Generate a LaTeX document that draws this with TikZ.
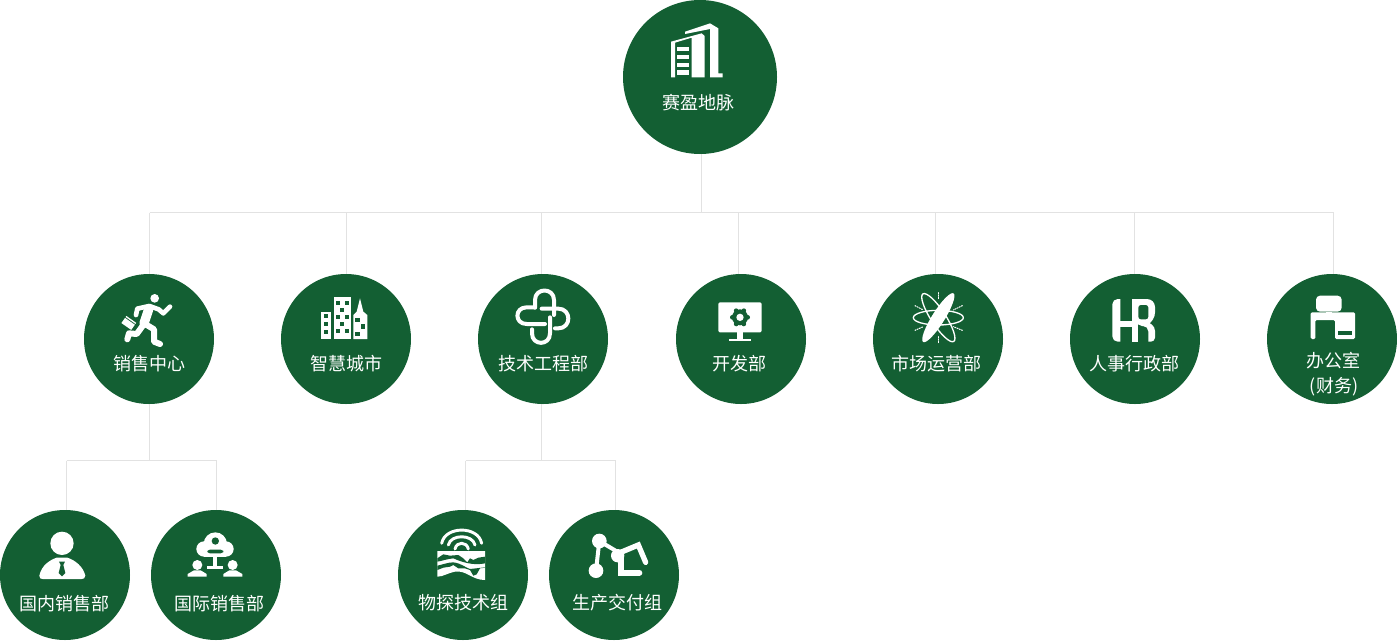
\documentclass[tikz,border=0pt]{standalone}
\usepackage{fontspec}
\setmainfont{Noto Sans CJK SC}
\definecolor{orggreen}{HTML}{135F33}
\definecolor{linkgray}{HTML}{E2E2E2}
\tikzset{
    orgnode/.style={circle,fill=orggreen,draw=none,minimum size=97.5pt,inner sep=0pt},
    orglabel/.style={text=white,font=\fontsize{13.5pt}{16pt}\selectfont,inner sep=0pt},
    linkline/.style={draw=linkgray,line width=0.75pt},
    iconfill/.style={fill=white,draw=none},
    iconhole/.style={fill=orggreen,draw=none},
    iconline/.style={draw=white,line width=#1,line cap=round,line join=round},
}
\begin{document}
\begin{tikzpicture}[x=0.75pt,y=-0.75pt]
    \useasboundingbox (0,0) rectangle (1397,640);
    % circles
    \node[orgnode,minimum size=115.5pt] (root) at (700,77) {};
    \node[orgnode] (sales) at (149,339) {};
    \node[orgnode] (city) at (346,339) {};
    \node[orgnode] (tech) at (543,339) {};
    \node[orgnode] (dev) at (741,339) {};
    \node[orgnode] (market) at (938,339) {};
    \node[orgnode] (hr) at (1135,339) {};
    \node[orgnode] (office) at (1332,339) {};
    \node[orgnode] (domestic) at (65,575) {};
    \node[orgnode] (intl) at (216,575) {};
    \node[orgnode] (geo) at (463,575) {};
    \node[orgnode] (delivery) at (614,575) {};
    % connectors
    \coordinate (bus0) at (701.5,212.5);
    \coordinate (bus1) at (149.5,212.5);
    \coordinate (bus2) at (346.5,212.5);
    \coordinate (bus3) at (541.5,212.5);
    \coordinate (bus4) at (738.5,212.5);
    \coordinate (bus5) at (935.5,212.5);
    \coordinate (bus6) at (1134.5,212.5);
    \coordinate (bus7) at (1333.5,212.5);
    \coordinate (salesbus) at (149.5,460.5);
    \coordinate (salesbus1) at (66.5,460.5);
    \coordinate (salesbus2) at (216.5,460.5);
    \coordinate (techbus) at (541.5,460.5);
    \coordinate (techbus1) at (465.5,460.5);
    \coordinate (techbus2) at (615.5,460.5);
    \draw[linkline] (bus0 |- root.south) -- (bus0);
    \draw[linkline] (bus1) -- (bus7);
    \draw[linkline] (bus1) -- (bus1 |- sales.north);
    \draw[linkline] (bus2) -- (bus2 |- city.north);
    \draw[linkline] (bus3) -- (bus3 |- tech.north);
    \draw[linkline] (bus4) -- (bus4 |- dev.north);
    \draw[linkline] (bus5) -- (bus5 |- market.north);
    \draw[linkline] (bus6) -- (bus6 |- hr.north);
    \draw[linkline] (bus7) -- (bus7 |- office.north);
    \draw[linkline] (salesbus |- sales.south) -- (salesbus);
    \draw[linkline] (salesbus1) -- (salesbus2);
    \draw[linkline] (salesbus1) -- (salesbus1 |- domestic.north);
    \draw[linkline] (salesbus2) -- (salesbus2 |- intl.north);
    \draw[linkline] (techbus |- tech.south) -- (techbus);
    \draw[linkline] (techbus1) -- (techbus2);
    \draw[linkline] (techbus1) -- (techbus1 |- geo.north);
    \draw[linkline] (techbus2) -- (techbus2 |- delivery.north);
    % labels
    \node[orglabel] (rootlabel) at (698.5,102.5) {赛盈地脉};
    \node[orglabel] (saleslabel) at (149,363.5) {销售中心};
    \node[orglabel] (citylabel) at (346,363.5) {智慧城市};
    \node[orglabel] (techlabel) at (543.5,363.5) {技术工程部};
    \node[orglabel] (devlabel) at (739,363.5) {开发部};
    \node[orglabel] (marketlabel) at (936.5,363.5) {市场运营部};
    \node[orglabel] (hrlabel) at (1134,363.5) {人事行政部};
    \node[orglabel] (officelabel) at (1333,360.5) {办公室};
    \node[orglabel] (officelabelb) at (1334,386.5) {(财务)};
    \node[orglabel] (domesticlabel) at (64.5,603.5) {国内销售部};
    \node[orglabel] (intllabel) at (219,603.5) {国际销售部};
    \node[orglabel] (geolabel) at (463.5,602.5) {物探技术组};
    \node[orglabel] (deliverylabel) at (617,602.5) {生产交付组};
    % icon: building
    \begin{scope}[shift={(620,0)},scale=1/3]
        \fill[iconfill] (195,95) -- (270,70) -- (295,85) -- (295,220) -- (308,220) -- (308,232) -- (270,232) -- (270,87) -- (195,102) -- cycle;
        \fill[iconfill] (153,125) -- (245,100) -- (254,108) -- (254,232) -- (215,232) -- (215,113) -- (165,128) -- (165,232) -- (153,232) -- cycle;
        \fill[iconfill] (172,140) rectangle (208,153);
        \fill[iconfill] (172,165) rectangle (208,178);
        \fill[iconfill] (172,188) rectangle (208,200);
        \fill[iconfill] (172,211) rectangle (208,225);
    \end{scope}
    % icon: runner
    \begin{scope}[shift={(80,270)},scale=1/3]
        \fill[iconfill] (224,85) circle (13);
        \draw[iconline=3.5pt] (168,135) -- (172,116) -- (208,108) -- (236,118) -- (250,130) -- (270,110);
        \draw[iconline=7pt] (206,118) -- (192,160);
        \draw[iconline=4.5pt] (190,165) -- (170,192) -- (147,190) -- (142,208);
        \draw[iconline=4.5pt] (192,160) -- (222,178) -- (222,215) -- (240,222);
        \fill[iconfill,rotate around={-35:(147,158)}] (129,146) rectangle (165,150);
        \fill[iconfill,rotate around={-35:(147,158)}] (129,153) rectangle (165,172);
    \end{scope}
    % icon: city
    \begin{scope}[shift={(80,270)},scale=1/3]
        \fill[iconfill] (723,125) rectangle (753,207);
        \fill[iconfill] (761,82) rectangle (812,207);
        \fill[iconfill] (820,207) -- (820,135) -- (830,125) -- (835,105) -- (840,85) -- (845,105) -- (850,125) -- (862,135) -- (862,207) -- cycle;
        \foreach \wy in {132,155,180} \fill[iconhole] (732,\wy) rectangle (744,\wy+12);
        \foreach \wx/\wy in {768/92,795/92,780/113,768/135,795/135,780/155,768/177,795/177} \fill[iconhole] (\wx,\wy) rectangle (\wx+13,\wy+13);
        \foreach \wx/\wy in {826/143,842/163,826/185} \fill[iconhole] (\wx,\wy) rectangle (\wx+13,\wy+13);
    \end{scope}
    % icon: knot
    \begin{scope}[shift={(470,270)},scale=1/3]
        \draw[iconline=3pt] (195,113) -- (195,90) .. controls (195,52) and (252,52) .. (252,90) -- (252,135);
        \draw[iconline=3pt] (186,178) -- (186,190) .. controls (186,228) and (240,228) .. (240,190) -- (240,142);
        \draw[iconline=3pt] (195,112) -- (170,112) .. controls (133,112) and (133,162) .. (170,162) -- (225,162);
        \draw[iconline=3pt] (215,116) -- (265,116) .. controls (305,116) and (305,175) .. (265,175) -- (255,175);
    \end{scope}
    % icon: monitor
    \begin{scope}[shift={(470,270)},scale=1/3]
        \fill[iconfill,rounded corners=1pt] (745,97) rectangle (875,187);
        \fill[iconfill] (800,187) rectangle (820,207);
        \fill[iconfill] (778,207) rectangle (842,214);
        \foreach \ga in {0,60,...,300} \fill[iconhole] (810,142) ++(\ga:23) circle (7);
        \fill[iconhole] (810,142) circle (24);
        \fill[iconfill] (810,142) circle (11);
    \end{scope}
    % icon: atom
    \begin{scope}[shift={(870,270)},scale=1/3]
        \draw[iconline=1pt] (205,143) ellipse [x radius=75,y radius=22];
        \draw[iconline=1pt,rotate around={-57:(205,143)}] (205,143) ellipse [x radius=85,y radius=22];
        \fill[iconfill,rotate around={58:(205,143)}] (205,143) ellipse [x radius=86,y radius=19];
        \draw[iconline=0.8pt,densely dotted] (205,68) -- (205,88);
        \draw[iconline=0.8pt,densely dotted] (205,200) -- (205,220);
        \draw[iconline=0.8pt,densely dotted] (135,107) -- (160,120);
        \draw[iconline=0.8pt,densely dotted] (277,107) -- (250,120);
        \draw[iconline=0.8pt,densely dotted] (135,181) -- (160,170);
        \draw[iconline=0.8pt,densely dotted] (277,181) -- (250,170);
    \end{scope}
    % icon: HR
    \begin{scope}[shift={(870,270)},scale=1/3]
        \fill[iconfill] (751,87) [rounded corners=4pt] -- (727,87) -- (727,215) [sharp corners] -- (751,215) -- cycle;
        \fill[iconfill] (750,152) rectangle (790,171);
        \fill[iconfill] (785,87) rectangle (805,215);
        \fill[iconfill] (800,87) [rounded corners=6pt] -- (855,87) -- (855,152) [sharp corners] -- (840,160) [rounded corners=3pt] -- (855,170) -- (855,215) [sharp corners] -- (835,215) [rounded corners=4pt] -- (835,168) -- (800,168) [sharp corners] -- cycle;
        \fill[iconhole,rounded corners=2pt] (805,105) rectangle (835,148);
    \end{scope}
    % icon: desk
    \begin{scope}[shift={(1260,270)},scale=1/3]
        \fill[iconfill,rounded corners=3pt] (168,77) rectangle (245,125);
        \fill[iconfill] (198,125) rectangle (215,135);
        \fill[iconfill,rounded corners=1pt] (152,207) -- (152,127) -- (285,127) -- (285,207) -- (225,207) -- (225,150) -- (166,150) -- (166,207) -- cycle;
        \fill[iconhole] (235,183) rectangle (275,195);
    \end{scope}
    % icon: person
    \begin{scope}[shift={(0,505)},scale=1/3]
        \fill[iconfill] (186,115) circle (35);
        \fill[iconfill] (118,212) .. controls (125,180) and (150,165) .. (170,158) -- (202,158) .. controls (225,165) and (250,185) .. (256,212) .. controls (256,220) and (250,222) .. (245,222) -- (128,222) .. controls (122,222) and (118,220) .. (118,212) -- cycle;
        \fill[iconhole] (177,170) -- (195,170) -- (190,180) -- (196,204) -- (186,214) -- (176,204) -- (182,180) -- cycle;
    \end{scope}
    % icon: cloud network
    \begin{scope}[shift={(0,505)},scale=1/3]
        \fill[iconfill] (646,117) circle (35);
        \fill[iconfill] (612,132) circle (23);
        \fill[iconfill] (678,132) circle (23);
        \fill[iconfill] (612,125) rectangle (678,155);
        \fill[iconhole] (646,108) circle (11);
        \fill[iconhole,rounded corners=2pt] (622,145) -- (622,134) -- (670,134) -- (670,145) -- cycle;
        \fill[iconfill] (640,155) rectangle (652,184);
        \fill[iconfill] (620,184) rectangle (670,192);
        \fill[iconfill] (592,180) circle (15);
        \fill[iconfill] (563,215) -- (563,207) -- (582,196) -- (602,196) -- (620,207) -- (620,215) -- cycle;
        \fill[iconfill] (698,180) circle (15);
        \fill[iconfill] (670,215) -- (670,207) -- (688,196) -- (708,196) -- (727,207) -- (727,215) -- cycle;
    \end{scope}
    % icon: survey
    \begin{scope}[shift={(430,525)},scale=1/3]
        \draw[iconline=2.2pt] (35,55) .. controls (45,2) and (145,2) .. (155,55);
        \draw[iconline=2.2pt] (55,60) .. controls (62,27) and (128,27) .. (135,60);
        \draw[iconline=2.2pt] (75,72) .. controls (80,49) and (110,49) .. (115,72);
        \fill[iconfill] (22,78) -- (165,78) -- (165,165) .. controls (125,165) and (110,135) .. (75,140) .. controls (55,143) and (40,155) .. (22,155) -- cycle;
        \fill[iconhole] (22,100) -- (40,88) -- (60,92) -- (85,90) -- (100,100) -- (112,112) -- (120,100) -- (130,105) -- (145,98) -- (165,95) -- (165,115) .. controls (140,120) and (110,118) .. (70,100) .. controls (50,102) and (35,108) .. (22,110) -- cycle;
        \fill[iconhole] (22,122) .. controls (40,118) and (55,112) .. (70,112) .. controls (95,115) and (110,130) .. (120,132) -- (165,127) -- (165,128) -- (150,130) -- (140,148) -- (130,152) -- (120,135) -- (105,130) -- (85,130) -- (70,120) -- (60,125) -- (40,128) -- (22,135) -- cycle;
    \end{scope}
    % icon: robot
    \begin{scope}[shift={(395,505)},scale=1/3]
        \draw[iconline=3pt] (613,108) -- (603,197);
        \draw[iconline=3pt] (613,108) -- (670,142);
        \fill[iconfill] (613,108) circle (22);
        \fill[iconfill] (603,197) circle (22);
        \fill[iconfill] (668,152) circle (20);
        \draw[iconline=4pt,line join=miter] (670,145) -- (730,120) -- (752,172);
        \draw[iconline=4.5pt,line join=miter] (678,150) -- (678,203) -- (733,203);
    \end{scope}
\end{tikzpicture}
\end{document}
